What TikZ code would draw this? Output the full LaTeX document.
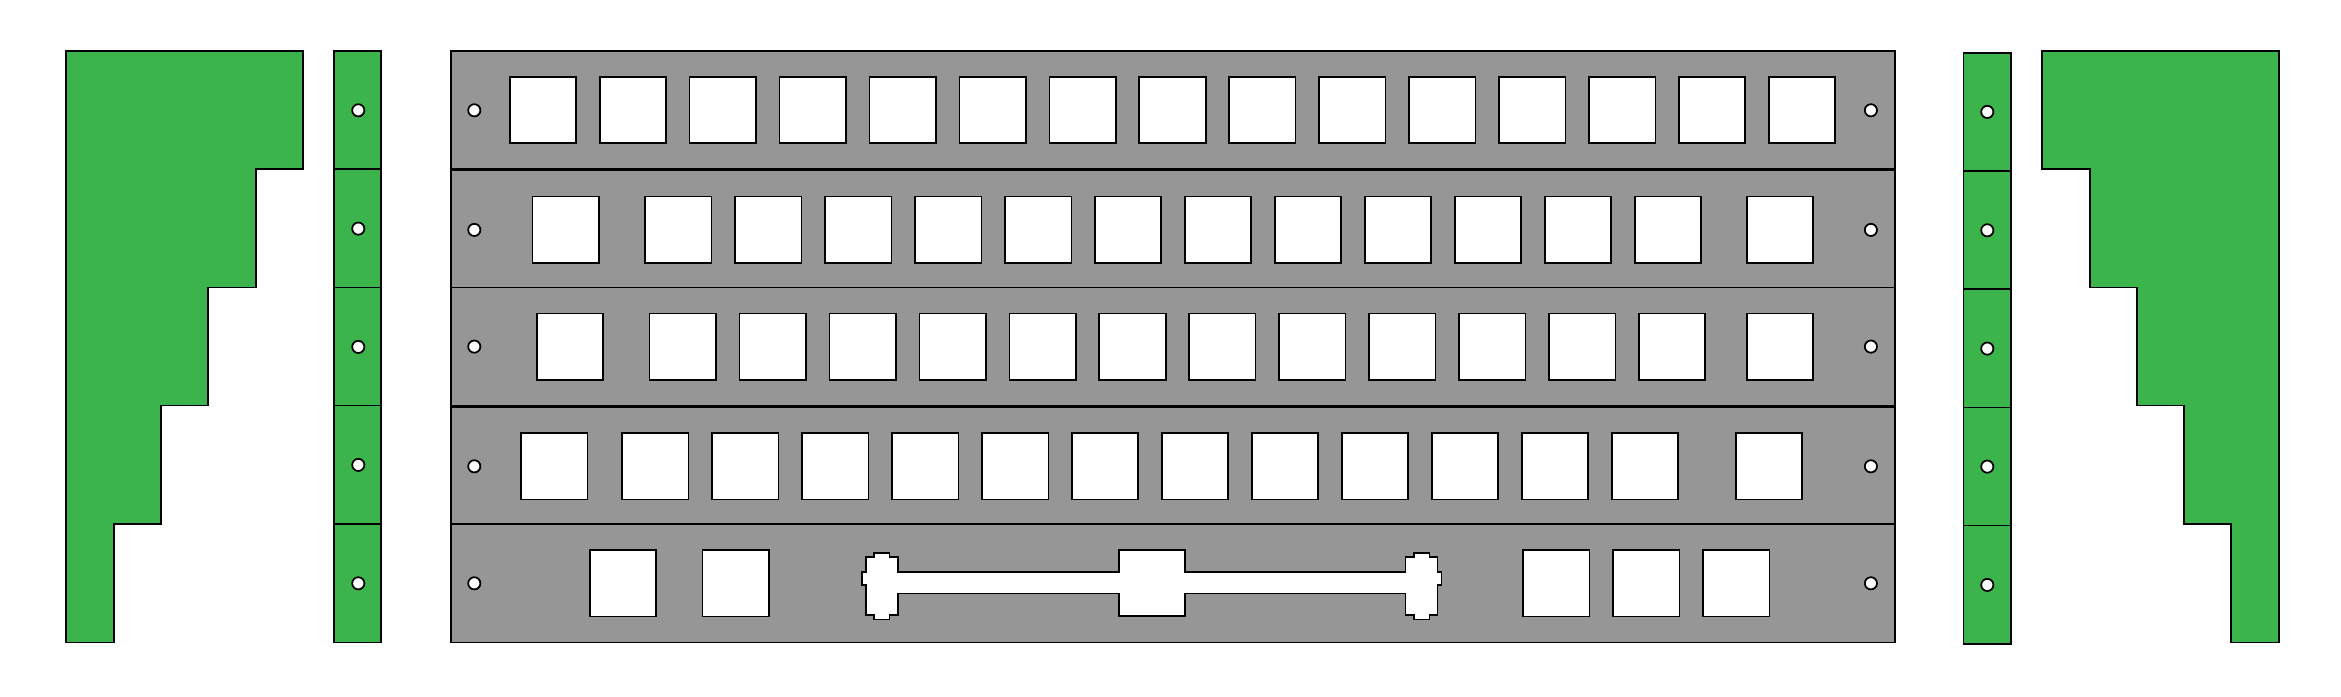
\documentclass[tikz,border=0pt]{standalone}
\definecolor{platecol}{HTML}{969696}
\definecolor{bracketcol}{HTML}{3BB54B}
\tikzset{
	outline/.style={draw=black, line width=0.5pt, line join=miter},
	plate/.style={outline, fill=platecol},
	bracket/.style={outline, fill=bracketcol},
	cutout/.style={outline, fill=white},
}
\begin{document}
\begin{tikzpicture}[x=0.01cm, y=-0.01cm]
	\useasboundingbox (-0.3,-0.6) rectangle (2340.7,695.4);
	% left profile
	\draw [bracket] (66,50.3) -- (303,50.3) -- (303,168.5) -- (255.5,168.5) -- (255.5,287) -- (208,287) -- (208,405) -- (161,405) -- (161,523.3) -- (114,523.3) -- (114,642) -- (66,642) -- cycle;
	% right profile
	\draw [bracket] (2278.8,50.3) -- (2041.6,50.3) -- (2041.6,168.5) -- (2089.4,168.5) -- (2089.4,287) -- (2136.7,287) -- (2136.7,405) -- (2184,405) -- (2184,523.3) -- (2231,523.3) -- (2231,642) -- (2278.8,642) -- cycle;
	% strips
	\foreach \top/\bot/\holey in {50.3/168.5/109.7, 168.5/287/228, 287/405/346.3, 405/523.3/464.3, 523.3/642/582.7} {
		\draw [bracket] (334,\top) rectangle (381,\bot);
		\draw [cutout] (358,\holey) circle [radius=6.1];
	}
	\foreach \top/\bot/\holey in {52.3/170.3/111.3, 170.3/288.7/229.7, 288.7/407/348, 407/525/466, 525/643.7/584.3} {
		\draw [bracket] (1963.3,\top) rectangle (2010.6,\bot);
		\draw [cutout] (1987,\holey) circle [radius=6.1];
	}
	% plates
	\foreach \top/\bot/\holey in {50.3/168.7/109.7, 169.6/287/229.3, 287/405.4/346, 406.3/523.3/465.7, 523.3/642/582.7} {
		\draw [plate] (450.4,\top) rectangle (1894.7,\bot);
		\draw [cutout] (474,\holey) circle [radius=6.1];
		\draw [cutout] (1870.6,\holey) circle [radius=6.1];
	}
	% row 1
	\foreach \i in {0,...,14}
		\draw [cutout] ({509.4+89.95*\i},76.3) rectangle ++(66.3,66.2);
	% row 2
	\draw [cutout] (532.3,196) rectangle ++(66.3,66.2);
	\foreach \i in {0,...,11}
		\draw [cutout] ({645+89.95*\i},196) rectangle ++(66.3,66.2);
	\draw [cutout] (1746.5,196) rectangle ++(66.3,66.2);
	% row 3
	\draw [cutout] (536.6,313) rectangle ++(66.3,66.2);
	\foreach \i in {0,...,11}
		\draw [cutout] ({649.3+89.95*\i},313) rectangle ++(66.3,66.2);
	\draw [cutout] (1746.5,313) rectangle ++(66.3,66.2);
	% row 4
	\draw [cutout] (520.8,432.7) rectangle ++(66.3,66.2);
	\foreach \i in {0,...,11}
		\draw [cutout] ({622+89.95*\i},432.7) rectangle ++(66.3,66.2);
	\draw [cutout] (1735.5,432.7) rectangle ++(66.3,66.2);
	% row 5
	\foreach \x in {589.6,702.3,1523,1613,1703}
		\draw [cutout] (\x,549.7) rectangle ++(66.3,66.2);
	\draw [cutout] (861.7,571.7) -- (865.7,571.7) -- (865.7,556.7) -- (873.7,556.7) -- (873.7,552.3) -- (889.3,552.3) -- (889.3,556.7) -- (897.7,556.7) -- (897.7,571.7)
		-- (1118.4,571.7) -- (1118.4,549.3) -- (1184.9,549.3) -- (1184.9,571.7)
		-- (1405.3,571.7) -- (1405.3,556.7) -- (1413.7,556.7) -- (1413.7,552.3) -- (1429.3,552.3) -- (1429.3,556.7) -- (1437.3,556.7) -- (1437.3,571.7) -- (1441.3,571.7)
		-- (1441.3,584.3) -- (1437.3,584.3) -- (1437.3,614.3) -- (1429.3,614.3) -- (1429.3,619) -- (1413.7,619) -- (1413.7,614.3) -- (1405.3,614.3) -- (1405.3,592.9)
		-- (1184.9,592.9) -- (1184.9,615.7) -- (1118.4,615.7) -- (1118.4,592.9)
		-- (897.7,592.9) -- (897.7,614.3) -- (889.3,614.3) -- (889.3,619) -- (873.7,619) -- (873.7,614.3) -- (865.7,614.3) -- (865.7,584.3) -- (861.7,584.3) -- cycle;
\end{tikzpicture}
\end{document}
